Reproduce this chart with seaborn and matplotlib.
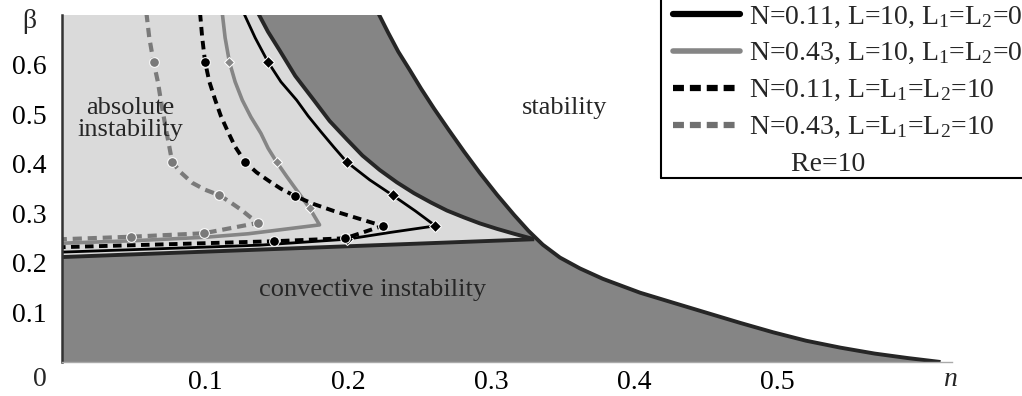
import numpy as np
import matplotlib
matplotlib.use('Agg')
import matplotlib.pyplot as plt
from matplotlib.lines import Line2D
import seaborn as sns

# region boundaries in the (n, beta) plane
outer_n = [0.221, 0.228, 0.235, 0.243, 0.251, 0.260, 0.270, 0.281, 0.292, 0.304, 0.316, 0.326,
           0.336, 0.348, 0.362, 0.378, 0.404, 0.428, 0.451, 0.474, 0.497, 0.520, 0.544, 0.568,
           0.591, 0.614]
outer_b = [0.705, 0.665, 0.627, 0.590, 0.552, 0.512, 0.470, 0.425, 0.382, 0.338, 0.297, 0.265,
           0.237, 0.211, 0.189, 0.168, 0.140, 0.119, 0.099, 0.079, 0.060, 0.043, 0.029, 0.017,
           0.008, 0.000]
inner_n = [0.137, 0.144, 0.152, 0.163, 0.176, 0.187, 0.199, 0.210, 0.222, 0.234, 0.246, 0.258,
           0.269, 0.281, 0.292, 0.304, 0.316, 0.330]
inner_b = [0.705, 0.667, 0.630, 0.578, 0.529, 0.487, 0.450, 0.417, 0.388, 0.363, 0.341, 0.322,
           0.306, 0.292, 0.280, 0.269, 0.259, 0.248]
lower_n = [0.0, 0.330]
lower_b = [0.212, 0.248]

# N=0.11, L=10, L1=L2=0
a_n = [0.127, 0.135, 0.144, 0.153, 0.164, 0.172, 0.181, 0.190, 0.199, 0.215, 0.231, 0.247, 0.261,
       0.230, 0.199, 0.138, 0.070, 0.0]
a_b = [0.705, 0.655, 0.606, 0.566, 0.529, 0.497, 0.465, 0.434, 0.404, 0.368, 0.337, 0.305, 0.275,
       0.262, 0.248, 0.236, 0.229, 0.222]
# N=0.43, L=10, L1=L2=0
b_n = [0.112, 0.114, 0.117, 0.121, 0.126, 0.132, 0.139, 0.144, 0.150, 0.157, 0.164, 0.173, 0.180,
       0.130, 0.100, 0.050, 0.0]
b_b = [0.705, 0.655, 0.606, 0.566, 0.529, 0.495, 0.462, 0.432, 0.404, 0.375, 0.347, 0.311, 0.277,
       0.259, 0.252, 0.245, 0.240]
# N=0.11, L=L1=L2=10
c_n = [0.0965, 0.098, 0.100, 0.103, 0.107, 0.111, 0.116, 0.121, 0.128, 0.136, 0.145, 0.153, 0.163,
       0.176, 0.190, 0.207, 0.224, 0.198, 0.148, 0.100, 0.050, 0.0]
c_b = [0.705, 0.655, 0.606, 0.566, 0.530, 0.497, 0.465, 0.435, 0.404, 0.383, 0.365, 0.350, 0.335,
       0.319, 0.305, 0.290, 0.275, 0.250, 0.244, 0.240, 0.236, 0.232]
# N=0.43, L=L1=L2=10
d_n = [0.059, 0.061, 0.064, 0.067, 0.069, 0.071, 0.073, 0.075, 0.077, 0.083, 0.091, 0.100, 0.110,
       0.118, 0.125, 0.131, 0.137, 0.099, 0.048, 0.0]
d_b = [0.705, 0.655, 0.606, 0.566, 0.530, 0.497, 0.465, 0.435, 0.404, 0.383, 0.362, 0.348, 0.337,
       0.322, 0.308, 0.294, 0.281, 0.260, 0.253, 0.248]

labels = ['N=0.11, L=10, L$_1$=L$_2$=0',
          'N=0.43, L=10, L$_1$=L$_2$=0',
          'N=0.11, L=L$_1$=L$_2$=10',
          'N=0.43, L=L$_1$=L$_2$=10']

sns.set_theme(style='white')
plt.rcParams['font.family'] = ['Liberation Serif', 'DejaVu Serif']
plt.rcParams['mathtext.fontset'] = 'custom'
plt.rcParams['mathtext.rm'] = 'Liberation Serif'
plt.rcParams['mathtext.it'] = 'Liberation Serif:italic'
plt.rcParams['mathtext.default'] = 'regular'

dark = '#858585'
light = '#dadada'
edge = '#262626'
gray = '#858585'

fig = plt.figure(figsize=(10.22, 3.96), dpi=100)
ax = fig.add_axes([62 / 1022, 1 - 362 / 396, 890 / 1022, 347 / 396])

# shaded regions
ax.fill_betweenx(outer_b, 0, outer_n, color=dark, lw=0)
poly_n = np.concatenate([lower_n, inner_n[::-1], [0.0]])
poly_b = np.concatenate([lower_b, inner_b[::-1], [inner_b[0]]])
ax.fill(poly_n, poly_b, color=light, lw=0)

for xs, ys in [(outer_n, outer_b), (inner_n, inner_b), (lower_n, lower_b)]:
    ax.plot(xs, ys, color=edge, lw=2.8, solid_capstyle='butt', solid_joinstyle='round')

# the four curves
sns.lineplot(x=a_n, y=a_b, sort=False, estimator=None, ax=ax, color='black', lw=2.0,
             marker='D', markersize=6, markevery=[2, 8, 10, 12, 14])
sns.lineplot(x=b_n, y=b_b, sort=False, estimator=None, ax=ax, color=gray, lw=2.6,
             marker='D', markersize=5, markevery=[2, 8, 11])
sns.lineplot(x=c_n, y=c_b, sort=False, estimator=None, ax=ax, color='black', lw=2.8,
             linestyle=(0, (2.2, 1.4)), marker='o', markersize=7, markevery=[2, 8, 12, 16, 17, 18])
sns.lineplot(x=d_n, y=d_b, sort=False, estimator=None, ax=ax, color='#7a7a7a', lw=3.0,
             linestyle=(0, (2.2, 1.4)), marker='o', markersize=7, markevery=[2, 8, 12, 16, 17, 18])

ax.set_xlim(0, 0.622)
ax.set_ylim(0, 0.701)
ax.set_xticks([0.1, 0.2, 0.3, 0.4, 0.5])
ax.set_xticklabels(['0.1', '0.2', '0.3', '0.4', '0.5'])
ax.set_xticks(np.arange(0.05, 0.61, 0.1), minor=True)
ax.set_yticks([0.1, 0.2, 0.3, 0.4, 0.5, 0.6])
ax.set_yticklabels(['0.1', '0.2', '0.3', '0.4', '0.5', '0.6'])
ax.set_yticks([0.05, 0.15, 0.25, 0.35, 0.45, 0.55, 0.65], minor=True)
ax.tick_params(axis='both', which='both', direction='out', length=3, width=0.8,
               color='#888888', labelsize=20, labelcolor='black')
ax.tick_params(axis='y', pad=8)
ax.tick_params(axis='x', pad=2.5)
for s in ['top', 'right']:
    ax.spines[s].set_visible(False)
ax.spines['left'].set_color('#333333')
ax.spines['left'].set_linewidth(1.8)
ax.spines['bottom'].set_color('#aaaaaa')
ax.spines['bottom'].set_linewidth(1.0)
ax.grid(False)

fig.text(40 / 1022, 1 - 380 / 396, '0', fontsize=20, ha='center', va='center')
fig.text(29 / 1022, 1 - 22 / 396, 'β', fontsize=20, ha='center', va='center')
fig.text(950 / 1022, 1 - 380 / 396, 'n', fontsize=20, style='italic', ha='center', va='center')

ax.text(0.0476, 0.491, 'absolute\ninstability', fontsize=19, ha='center', va='center',
        linespacing=1.05)
ax.text(0.351, 0.513, 'stability', fontsize=19, ha='center', va='center')
ax.text(0.217, 0.145, 'convective instability', fontsize=19, ha='center', va='center')

# legend; its box is cut by the figure edges, so only left and bottom rules show
handles = [Line2D([], [], color='black', lw=4.5),
           Line2D([], [], color=gray, lw=4.0),
           Line2D([], [], color='black', lw=4.5, linestyle=(0, (1.75, 0.95))),
           Line2D([], [], color='#707070', lw=4.5, linestyle=(0, (1.75, 0.95))),
           Line2D([], [], color='none')]
fig.legend(handles, labels + ['      Re=10'], loc='upper left',
           bbox_to_anchor=(673 / 1022, 1 - 4 / 396), bbox_transform=fig.transFigure,
           borderaxespad=0, fontsize=20, handlelength=2.4, handletextpad=0.35,
           borderpad=0, labelspacing=0.41, frameon=False)
fig.add_artist(Line2D([661 / 1022, 661 / 1022], [1.0, 1 - 178 / 396], color='black', lw=1.5,
                      transform=fig.transFigure))
fig.add_artist(Line2D([661 / 1022, 1.0], [1 - 178 / 396, 1 - 178 / 396], color='black', lw=1.5,
                      transform=fig.transFigure))

fig.savefig('out.png', dpi=100)
